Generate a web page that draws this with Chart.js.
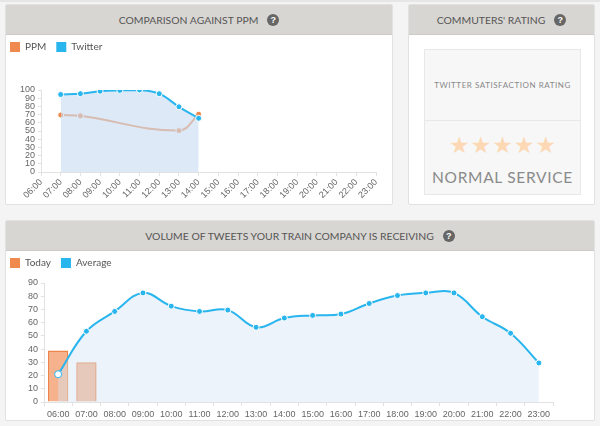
<!DOCTYPE html>
<html><head><meta charset="utf-8">
<script src="https://cdn.jsdelivr.net/npm/chart.js@4.4.0/dist/chart.umd.min.js"></script>
<style>
html,body{margin:0;padding:0;background:#f4f4f4;width:600px;height:426px;overflow:hidden;font-family:Lato,'Open Sans',sans-serif;}
.topbar{position:absolute;left:0;top:0;width:600px;height:2px;background:#e6e6e6;}
.panel{position:absolute;background:#fff;border:1px solid #e1e1e1;border-radius:2px;box-sizing:border-box;overflow:hidden;}
.hdr{position:absolute;left:0;top:0;right:0;height:29px;background:#d8d6d2;border-bottom:1px solid #cdcbc7;display:flex;align-items:center;justify-content:center;color:#555;font-size:10.4px;letter-spacing:0px;}
.q{display:inline-block;width:12px;height:12px;border-radius:50%;background:#666;color:#fff;font-size:9px;font-weight:bold;line-height:12px;text-align:center;margin-left:9px;font-family:'Liberation Sans',Arial,sans-serif;}
.inner{position:absolute;left:15px;top:44px;width:157px;height:146px;background:#f7f7f7;border:1px solid #e8e8e8;box-sizing:border-box;}
.sat{position:absolute;left:0;right:0;top:0;height:70px;border-bottom:1px solid #e8e8e8;display:flex;align-items:center;justify-content:center;font-size:8px;letter-spacing:0.55px;color:#888;}
.stars{position:absolute;left:0;right:0;top:83px;text-align:center;font-family:'DejaVu Sans',sans-serif;font-size:23px;letter-spacing:1px;color:#fcd8b4;line-height:24px;padding-left:1px;}
.svc{position:absolute;left:0;right:0;top:118px;text-align:center;font-size:15.5px;letter-spacing:0.7px;color:#8a8a8a;line-height:18px;}
canvas{position:absolute;}
</style></head>
<body>
<div class="topbar"></div>
<div class="panel" style="left:5px;top:4px;width:388px;height:201px;"><div class="hdr">COMPARISON AGAINST PPM<span class="q">?</span></div></div>
<div class="panel" style="left:408px;top:4px;width:187px;height:201px;"><div class="hdr">COMMUTERS' RATING<span class="q">?</span></div>
  <div class="inner"><div class="sat">TWITTER SATISFACTION RATING</div><div class="stars">★★★★★</div><div class="svc">NORMAL SERVICE</div></div>
</div>
<div class="panel" style="left:5px;top:220px;width:590px;height:201px;"><div class="hdr">VOLUME OF TWEETS YOUR TRAIN COMPANY IS RECEIVING<span class="q">?</span></div></div>
<canvas id="c1" width="392" height="173" style="left:0;top:32px;"></canvas>
<canvas id="c2" width="594" height="173" style="left:0;top:248px;"></canvas>
<script>
// ---- data ----
const hours = ['06:00','07:00','08:00','09:00','10:00','11:00','12:00','13:00','14:00','15:00','16:00','17:00','18:00','19:00','20:00','21:00','22:00','23:00'];
const ppmValues = [null,69.5,68.5,null,null,null,null,50.5,70.5,null,null,null,null,null,null,null,null,null];
const twitterValues = [null,94.5,95.5,98.5,99.5,100,95.5,79.5,65.5,null,null,null,null,null,null,null,null,null];
const todayValues = [39,30,null,null,null,null,null,null,null,null,null,null,null,null,null,null,null,null];
const averageValues = [21,53.5,68.5,82.5,72.5,68.5,69.5,56.5,63.5,65.5,66.5,74.5,80.5,82.5,82.5,64.5,52,29.5];
const ppmTicksMax = 100;
const volumeTicksMax = 90;

// ---- styles ----
const ORANGE = '#f0894e';
const BLUE = '#29b5ee';
const axisColor = '#e2e2e2';
const tickFont = {family:"'Liberation Sans', Arial, sans-serif", size:9};
const tickColor = '#666';

function legendOpts(colors){
  return {
    display:true, position:'top', align:'start',
    labels:{
      boxWidth:10, boxHeight:10, padding:10, color:'#555',
      font:{family:"Lato, 'Open Sans', sans-serif", size:10},
      sort:(a,b)=>a.datasetIndex-b.datasetIndex,
      generateLabels(chart){
        const items = Chart.defaults.plugins.legend.labels.generateLabels(chart);
        items.forEach(it=>{ it.fillStyle = colors[it.datasetIndex]; it.strokeStyle = colors[it.datasetIndex]; it.lineWidth = 0; });
        return items;
      }
    }
  };
}
function legendSpacer(extra){
  return { id:'legendSpacer', beforeInit(chart){
    const fit = chart.legend.fit;
    chart.legend.fit = function(){ fit.bind(chart.legend)(); this.height += extra; };
  }};
}

new Chart(document.getElementById('c1'), {
  type:'line',
  data:{ labels:hours, datasets:[
    { label:'PPM', data:ppmValues, order:1, borderColor:ORANGE, backgroundColor:ORANGE, borderWidth:2, tension:0.4, spanGaps:true, fill:false,
      pointRadius:3, pointBorderWidth:1, pointBorderColor:'#fff', pointBackgroundColor:ORANGE },
    { label:'Twitter', data:twitterValues, order:0, borderColor:BLUE, backgroundColor:'rgba(200,220,240,0.62)', borderWidth:2, tension:0.4, fill:'origin',
      pointRadius:3, pointBorderWidth:1, pointBorderColor:'#fff', pointBackgroundColor:BLUE }
  ]},
  options:{
    responsive:false, animation:false, devicePixelRatio:1,
    layout:{padding:{left:0,right:16,top:0,bottom:0}},
    plugins:{ legend:legendOpts([ORANGE,BLUE]), tooltip:{enabled:false} },
    scales:{
      x:{ offset:false, grid:{drawOnChartArea:false, tickLength:4, color:axisColor}, border:{color:axisColor},
          ticks:{autoSkip:false, maxRotation:45, minRotation:45, font:tickFont, color:tickColor, padding:1},
          afterFit(s){ s.height = 33; } },
      y:{ min:0, max:ppmTicksMax, grid:{drawOnChartArea:false, tickLength:3, color:axisColor}, border:{color:axisColor},
          ticks:{stepSize:10, autoSkip:false, font:tickFont, color:tickColor, padding:3},
          afterFit(s){ s.width = 41; } }
    }
  },
  plugins:[legendSpacer(28)]
});

new Chart(document.getElementById('c2'), {
  type:'bar',
  data:{ labels:hours, datasets:[
    { type:'bar', label:'Today', data:todayValues, order:1, backgroundColor:'rgba(240,137,78,0.65)', borderColor:'#ee8447', borderWidth:1.5 },
    { type:'line', label:'Average', data:averageValues, order:0, borderColor:BLUE, backgroundColor:'rgba(213,229,244,0.45)', borderWidth:2, tension:0.4, fill:'origin',
      pointRadius:[3.5,3,3,3,3,3,3,3,3,3,3,3,3,3,3,3,3,3], pointBorderWidth:1,
      pointBorderColor:[BLUE,'#fff','#fff','#fff','#fff','#fff','#fff','#fff','#fff','#fff','#fff','#fff','#fff','#fff','#fff','#fff','#fff','#fff'],
      pointBackgroundColor:['#fff',BLUE,BLUE,BLUE,BLUE,BLUE,BLUE,BLUE,BLUE,BLUE,BLUE,BLUE,BLUE,BLUE,BLUE,BLUE,BLUE,BLUE] }
  ]},
  options:{
    responsive:false, animation:false, devicePixelRatio:1,
    layout:{padding:{left:0,right:41,top:0,bottom:0}},
    plugins:{ legend:legendOpts([ORANGE,BLUE]), tooltip:{enabled:false} },
    scales:{
      x:{ offset:true, grid:{offset:true, drawOnChartArea:false, tickLength:4, color:axisColor}, border:{color:axisColor},
          ticks:{autoSkip:false, maxRotation:0, minRotation:0, font:tickFont, color:tickColor, padding:3},
          afterFit(s){ s.height = 19; } },
      y:{ min:0, max:volumeTicksMax, grid:{drawOnChartArea:false, tickLength:3, color:axisColor}, border:{color:axisColor},
          ticks:{stepSize:10, autoSkip:false, font:tickFont, color:tickColor, padding:3},
          afterFit(s){ s.width = 44; } }
    }
  },
  plugins:[legendSpacer(5)]
});
</script>
</body></html>
